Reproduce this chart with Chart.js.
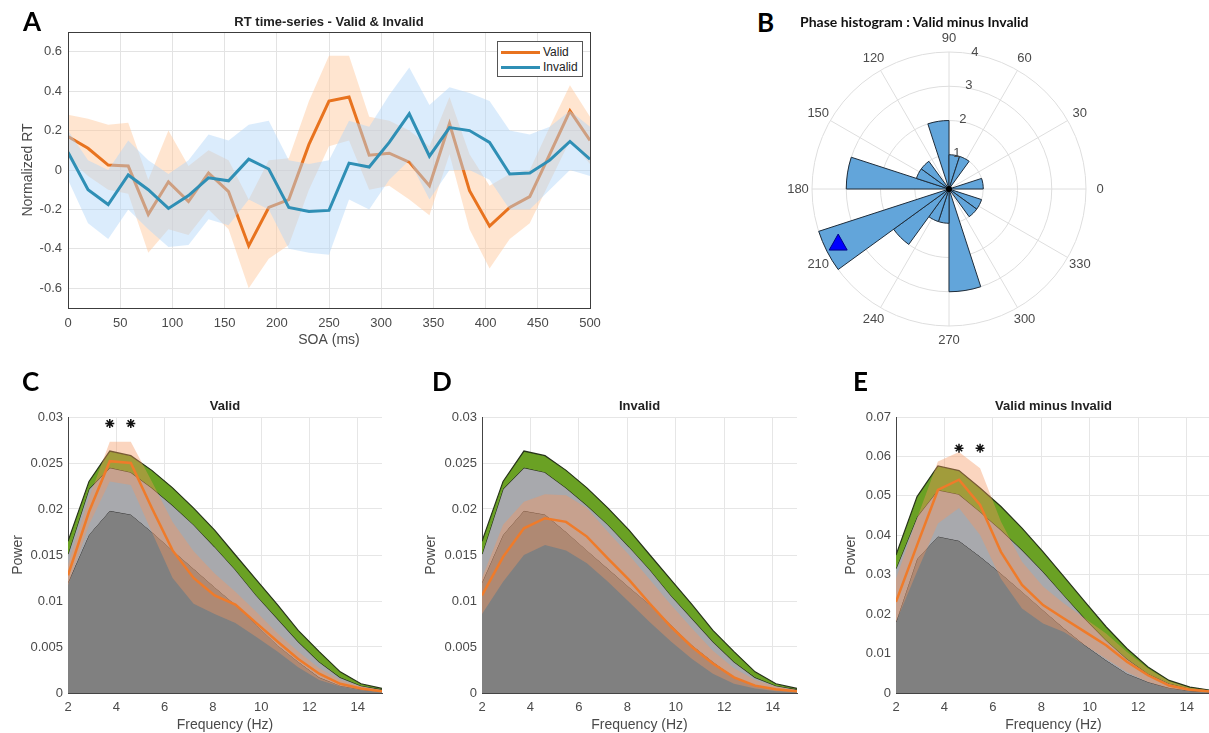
<!DOCTYPE html>
<html>
<head>
<meta charset="utf-8">
<script src="https://cdn.jsdelivr.net/npm/chart.js@4.4.1/dist/chart.umd.min.js"></script>
<style>
  body { margin: 0; background: #fff; overflow: hidden; }
  .fig { position: relative; width: 1209px; height: 733px; }
  canvas { position: absolute; }
  .letter { position: absolute; font: bold 26px Lato, "Open Sans", sans-serif; line-height: 26px; color: #000; }
  .ptitle { position: absolute; font: bold 14px Lato, sans-serif; color: #111; white-space: nowrap; }
  .legend { position: absolute; left: 497px; top: 41px; width: 84px; height: 34px; border: 1px solid #555;
    background: #fff; font: 12px "Liberation Sans", Arial, sans-serif; color: #222; z-index: 2; }
  .legend div { position: absolute; left: 3px; height: 14px; line-height: 14px; }
  .legend span { display: inline-block; width: 39px; height: 3px; vertical-align: middle; margin-right: 3px; }
</style>
</head>
<body>
<div class="fig">
  <canvas id="rtChart" width="610" height="352" style="left:0;top:0"></canvas>
  <canvas id="phaseChart" width="340" height="340" style="left:779px;top:19px"></canvas>
  <canvas id="validChart" width="405" height="342" style="left:0;top:392px"></canvas>
  <canvas id="invalidChart" width="400" height="342" style="left:410px;top:392px"></canvas>
  <canvas id="diffChart" width="410" height="342" style="left:810px;top:392px"></canvas>

  <div class="letter" style="left:23px;top:8px">A</div>
  <div class="letter" style="left:757px;top:9px">B</div>
  <div class="letter" style="left:22px;top:368px">C</div>
  <div class="letter" style="left:432px;top:368px">D</div>
  <div class="letter" style="left:853px;top:368px">E</div>
  <div class="ptitle" style="left:800px;top:13px">Phase histogram : Valid minus Invalid</div>

  <div class="legend">
    <div style="top:3px"><span style="background:#e8731f"></span>Valid</div>
    <div style="top:18px"><span style="background:#2f8fb5"></span>Invalid</div>
  </div>
</div>

<script>
// ---- panel A : RT time-series ----
const soaMs = [0, 19.2, 38.5, 57.7, 76.9, 96.2, 115.4, 134.6, 153.8, 173.1, 192.3, 211.5, 230.8, 250,
  269.2, 288.5, 307.7, 326.9, 346.2, 365.4, 384.6, 403.8, 423.1, 442.3, 461.5, 480.8, 500];
const validRT = [0.17, 0.11, 0.025, 0.02, -0.225, -0.06, -0.16, -0.015, -0.11, -0.385, -0.19, -0.15, 0.13, 0.35,
  0.37, 0.075, 0.085, 0.04, -0.08, 0.235, -0.105, -0.285, -0.19, -0.135, 0.08, 0.30, 0.15];
const validHi = [0.28, 0.26, 0.23, 0.24, -0.05, 0.2, 0.02, 0.1, 0.05, -0.15, 0.05, 0.06, 0.35, 0.58,
  0.58, 0.27, 0.25, 0.2, 0.12, 0.37, 0.08, -0.08, -0.02, 0.0, 0.22, 0.43, 0.27];
const validLo = [0.06, -0.03, -0.1, -0.12, -0.42, -0.3, -0.33, -0.2, -0.3, -0.6, -0.45, -0.38, -0.1, 0.12,
  0.15, -0.1, -0.08, -0.15, -0.23, 0.08, -0.3, -0.5, -0.35, -0.27, -0.06, 0.15, 0.03];
const invalidRT = [0.09, -0.1, -0.175, -0.025, -0.1, -0.195, -0.13, -0.04, -0.055, 0.055, 0.005, -0.19, -0.21, -0.205,
  0.035, 0.015, 0.14, 0.285, 0.07, 0.215, 0.2, 0.14, -0.02, -0.015, 0.05, 0.145, 0.055];
const invalidHi = [0.2, 0.05, 0.0, 0.15, 0.05, -0.02, 0.05, 0.18, 0.15, 0.23, 0.25, 0.05, 0.03, 0.05,
  0.25, 0.22, 0.38, 0.52, 0.33, 0.42, 0.39, 0.35, 0.2, 0.18, 0.22, 0.3, 0.22];
const invalidLo = [-0.05, -0.27, -0.35, -0.2, -0.3, -0.39, -0.38, -0.25, -0.28, -0.15, -0.2, -0.4, -0.42, -0.43,
  -0.15, -0.2, -0.05, 0.05, -0.15, 0.0, 0.0, -0.05, -0.2, -0.2, -0.1, 0.0, -0.03];
const rtTicks = [-0.6, -0.4, -0.2, 0, 0.2, 0.4, 0.6];
const soaTicks = [0, 50, 100, 150, 200, 250, 300, 350, 400, 450, 500];

// ---- panel B : phase histogram (18 deg bins, counter-clockwise from 0 deg) ----
const phaseBinsDeg = [0, 18, 36, 54, 72, 90, 108, 126, 144, 162, 180, 198, 216, 234, 252, 270, 288, 306, 324, 342];
const phaseCounts = [1, 0, 0, 1, 1, 2, 0, 1, 1, 3, 0, 4, 2, 1, 1, 3, 0, 1, 1, 0];
const angleTicks = [0, 30, 60, 90, 120, 150, 180, 210, 240, 270, 300, 330];
const ringTicks = [1, 2, 3, 4];
const meanPhaseDeg = 206;
const meanPhaseR = 3.6;

// ---- panels C-E : power spectra ----
const freqHz = [2, 2.87, 3.73, 4.6, 5.47, 6.33, 7.2, 8.07, 8.93, 9.8, 10.67, 11.53, 12.4, 13.27, 14.13, 15];
const freqTicks = [2, 4, 6, 8, 10, 12, 14];

const surrLow = [0.012, 0.0172, 0.0198, 0.0194, 0.0175, 0.0155, 0.0135, 0.0115, 0.0096, 0.0074, 0.0052, 0.0034, 0.0017, 0.0008, 0.0004, 0.0002];
const surrMid = [0.0151, 0.0222, 0.0245, 0.0240, 0.0223, 0.0204, 0.0183, 0.0159, 0.0134, 0.0106, 0.0081, 0.0056, 0.0034, 0.0017, 0.0008, 0.0004];
const surrHigh = [0.0165, 0.0230, 0.0263, 0.0258, 0.0242, 0.0223, 0.0201, 0.0177, 0.0150, 0.0123, 0.0096, 0.0068, 0.0045, 0.0023, 0.0010, 0.0005];

const validPow = [0.0128, 0.0197, 0.0252, 0.0250, 0.0201, 0.0155, 0.0125, 0.0106, 0.0096, 0.0076, 0.0056, 0.0037, 0.0021, 0.0010, 0.0005, 0.0002];
const validPowHi = [0.0139, 0.0212, 0.0273, 0.0273, 0.0230, 0.0186, 0.0154, 0.0130, 0.0110, 0.0088, 0.0065, 0.0045, 0.0027, 0.0014, 0.0007, 0.0003];
const validPowLo = [0.0117, 0.0183, 0.0230, 0.0226, 0.0175, 0.0125, 0.0097, 0.0086, 0.0076, 0.0061, 0.0045, 0.0028, 0.0014, 0.0007, 0.0003, 0.0001];
const validStarsHz = [3.73, 4.6];
const validStarY = 0.0293;

const invalidPow = [0.0106, 0.0148, 0.0179, 0.0190, 0.0186, 0.0170, 0.0146, 0.0123, 0.0097, 0.0072, 0.0050, 0.0032, 0.0017, 0.0008, 0.0004, 0.0002];
const invalidPowHi = [0.0125, 0.0183, 0.0208, 0.0216, 0.0215, 0.0201, 0.0175, 0.0150, 0.0123, 0.0096, 0.0070, 0.0046, 0.0027, 0.0014, 0.0007, 0.0003];
const invalidPowLo = [0.0086, 0.0121, 0.0150, 0.0161, 0.0155, 0.0141, 0.0121, 0.0099, 0.0077, 0.0056, 0.0037, 0.0021, 0.0010, 0.0005, 0.0002, 0.0001];

const diffSurrLow = [0.018, 0.034, 0.0397, 0.0386, 0.0346, 0.0303, 0.0257, 0.0210, 0.0164, 0.0121, 0.0083, 0.0049, 0.0028, 0.0013, 0.0006, 0.0003];
const diffSurrMid = [0.0316, 0.0447, 0.0515, 0.0504, 0.046, 0.0414, 0.0363, 0.0308, 0.0248, 0.0189, 0.0134, 0.0087, 0.0049, 0.0024, 0.0011, 0.0005];
const diffSurrHigh = [0.035, 0.0498, 0.0576, 0.0564, 0.052, 0.0473, 0.0418, 0.0358, 0.0295, 0.0231, 0.0168, 0.0113, 0.0066, 0.0032, 0.0015, 0.0007];
const diffPow = [0.0231, 0.0375, 0.0515, 0.0541, 0.0477, 0.0358, 0.0274, 0.0223, 0.0189, 0.0155, 0.0121, 0.0079, 0.0045, 0.0019, 0.0008, 0.0004];
const diffPowHi = [0.029, 0.0443, 0.0587, 0.0611, 0.057, 0.0435, 0.0333, 0.027, 0.0227, 0.0189, 0.0151, 0.0104, 0.0062, 0.003, 0.0013, 0.0006];
const diffPowLo = [0.018, 0.0308, 0.043, 0.0469, 0.0401, 0.029, 0.0214, 0.0176, 0.0155, 0.0121, 0.0087, 0.0053, 0.0028, 0.0011, 0.0005, 0.0003];
const diffStarsHz = [4.6, 5.47];
const diffStarY = 0.0621;

const powTicksSmall = [0, 0.005, 0.01, 0.015, 0.02, 0.025, 0.03];
const powTicksBig = [0, 0.01, 0.02, 0.03, 0.04, 0.05, 0.06, 0.07];

Chart.defaults.font.family = '"Liberation Sans", Arial, sans-serif';
Chart.defaults.color = "#4a4a4a";

const fmt = (v) => String(parseFloat(Number(v).toFixed(4)));
const xy = (xs, ys) => xs.map((x, i) => ({ x: x, y: ys[i] }));
const clear = "rgba(0,0,0,0)";

// draws the full axes box (panel A only)
const boxPlugin = {
  id: "box",
  afterDatasetsDraw(chart) {
    const a = chart.chartArea, ctx = chart.ctx;
    ctx.save();
    ctx.strokeStyle = "#3c3c3c";
    ctx.lineWidth = 1;
    ctx.strokeRect(Math.round(a.left) + 0.5, Math.round(a.top) + 0.5, Math.round(a.right - a.left), Math.round(a.bottom - a.top));
    ctx.restore();
  }
};

function band(data, color, order) {
  return { data: data, borderColor: clear, borderWidth: 0, backgroundColor: color, pointRadius: 0, fill: "-1", order: order };
}
function edge(data, order) {
  return { data: data, borderColor: clear, borderWidth: 0, pointRadius: 0, fill: false, order: order };
}

// ---- A ----
new Chart(document.getElementById("rtChart"), {
  type: "line",
  data: {
    datasets: [
      edge(xy(soaMs, validLo), 10),
      band(xy(soaMs, validHi), "rgba(255, 198, 150, 0.45)", 9),
      { label: "Valid", data: xy(soaMs, validRT), borderColor: "#e8731f", borderWidth: 3, pointRadius: 0, fill: false, order: 8 },
      edge(xy(soaMs, invalidLo), 7),
      band(xy(soaMs, invalidHi), "rgba(175, 212, 248, 0.45)", 6),
      { label: "Invalid", data: xy(soaMs, invalidRT), borderColor: "#2f8fb5", borderWidth: 3, pointRadius: 0, fill: false, order: 5 }
    ]
  },
  options: {
    responsive: false, animation: false,
    layout: { padding: { top: 14, right: 20, left: 0, bottom: 0 } },
    plugins: {
      legend: { display: false }, tooltip: { enabled: false },
      title: { display: true, text: "RT time-series - Valid & Invalid", fullSize: false, color: "#222",
        font: { size: 13, weight: "bold", lineHeight: "16px" }, padding: { top: 0, bottom: 2 } }
    },
    scales: {
      x: {
        type: "linear", min: 0, max: 500,
        afterBuildTicks: (s) => { s.ticks = soaTicks.map((v) => ({ value: v })); },
        afterFit: (s) => { s.height = 44; },
        grid: { color: "#e3e3e3", drawTicks: false },
        border: { display: false },
        ticks: { padding: 8, font: { size: 13 }, maxRotation: 0 },
        title: { display: true, text: "SOA (ms)", font: { size: 14 }, padding: { top: 0, bottom: 3 } }
      },
      y: {
        min: -0.7, max: 0.7,
        afterBuildTicks: (s) => { s.ticks = rtTicks.map((v) => ({ value: v })); },
        afterFit: (s) => { s.width = 68; },
        grid: { color: "#e3e3e3", drawTicks: false },
        border: { display: false },
        ticks: { padding: 6, font: { size: 13 }, callback: fmt },
        title: { display: true, text: "Normalized RT", font: { size: 14 }, padding: { top: 20, bottom: 0 } }
      }
    }
  },
  plugins: [boxPlugin]
});

// ---- B ----
const polarDecor = {
  id: "polarDecor",
  beforeDatasetsDraw(chart) {
    const r = chart.scales.r, ctx = chart.ctx;
    const R = r.getDistanceFromCenterForValue(ringTicks[ringTicks.length - 1]);
    ctx.save();
    ctx.strokeStyle = "#dedede";
    ctx.lineWidth = 1;
    angleTicks.forEach((a) => {
      const t = a * Math.PI / 180;
      ctx.beginPath();
      ctx.moveTo(r.xCenter, r.yCenter);
      ctx.lineTo(r.xCenter + R * Math.cos(t), r.yCenter - R * Math.sin(t));
      ctx.stroke();
    });
    ctx.restore();
  },
  afterDatasetsDraw(chart) {
    const r = chart.scales.r, ctx = chart.ctx;
    const R = r.getDistanceFromCenterForValue(ringTicks[ringTicks.length - 1]);
    ctx.save();
    ctx.font = '13px "Liberation Sans", Arial, sans-serif';
    ctx.fillStyle = "#4a4a4a";
    ctx.textAlign = "center";
    ctx.textBaseline = "middle";
    angleTicks.forEach((a) => {
      const t = a * Math.PI / 180;
      ctx.fillText(String(a), r.xCenter + (R + 14) * Math.cos(t), r.yCenter - (R + 14) * Math.sin(t));
    });
    const lt = 80 * Math.PI / 180;
    ringTicks.forEach((v) => {
      const d = r.getDistanceFromCenterForValue(v);
      ctx.fillText(String(v), r.xCenter + d * Math.cos(lt) + 2, r.yCenter - d * Math.sin(lt) - 2);
    });
    // centre dot
    ctx.fillStyle = "#000";
    ctx.beginPath();
    ctx.arc(r.xCenter, r.yCenter, 3, 0, Math.PI * 2);
    ctx.fill();
    // mean phase marker
    const mt = meanPhaseDeg * Math.PI / 180;
    const md = r.getDistanceFromCenterForValue(meanPhaseR);
    const mx = r.xCenter + md * Math.cos(mt), my = r.yCenter - md * Math.sin(mt);
    ctx.fillStyle = "#0000ff";
    ctx.strokeStyle = "#00008a";
    ctx.beginPath();
    ctx.moveTo(mx, my - 9);
    ctx.lineTo(mx + 9, my + 7);
    ctx.lineTo(mx - 9, my + 7);
    ctx.closePath();
    ctx.fill();
    ctx.stroke();
    ctx.restore();
  }
};

new Chart(document.getElementById("phaseChart"), {
  type: "polarArea",
  data: {
    labels: phaseBinsDeg.slice().reverse().map(String),
    datasets: [{
      data: phaseCounts.slice().reverse(),
      backgroundColor: "#62a5da",
      borderColor: "#1e2c3a",
      borderWidth: 1
    }]
  },
  options: {
    responsive: false, animation: false,
    layout: { padding: 33 },
    plugins: { legend: { display: false }, tooltip: { enabled: false } },
    scales: {
      r: {
        min: 0, max: 4, startAngle: 90,
        ticks: { display: false, stepSize: 1 },
        grid: { color: "#dedede", circular: true },
        angleLines: { display: false },
        pointLabels: { display: false }
      }
    }
  },
  plugins: [polarDecor]
});

// ---- C, D, E ----
function spectrumChart(id, opt) {
  const datasets = [
    { data: xy(freqHz, opt.low), borderColor: "#333", borderWidth: 1, backgroundColor: "#808080", pointRadius: 0, fill: "origin", order: 7 },
    { data: xy(freqHz, opt.mid), borderColor: "#27331a", borderWidth: 1.2, backgroundColor: "#a8a9ad", pointRadius: 0, fill: "-1", order: 6 },
    { data: xy(freqHz, opt.high), borderColor: "#27331a", borderWidth: 1.2, backgroundColor: "#6aa124", pointRadius: 0, fill: "-1", order: 5 },
    edge(xy(freqHz, opt.lo), 4),
    band(xy(freqHz, opt.hi), "rgba(246, 150, 95, 0.4)", 3),
    { data: xy(freqHz, opt.mean), borderColor: "#ef7b2a", borderWidth: 2.5, pointRadius: 0, fill: false, order: 2 }
  ];
  if (opt.stars) {
    datasets.push({ data: opt.stars.map((x) => ({ x: x, y: opt.starY })), showLine: false, pointStyle: "star",
      pointRadius: 4.5, borderColor: "#111", borderWidth: 1.5, order: 1 });
  }
  return new Chart(document.getElementById(id), {
    type: "line",
    data: { datasets: datasets },
    options: {
      responsive: false, animation: false,
      layout: { padding: { top: 6, right: opt.right, left: 0, bottom: 0 } },
      plugins: {
        legend: { display: false }, tooltip: { enabled: false },
        title: { display: true, text: opt.title, fullSize: false, color: "#222",
          font: { size: 13, weight: "bold", lineHeight: "16px" }, padding: { top: 0, bottom: 3 } }
      },
      scales: {
        x: {
          type: "linear", min: 2, max: 15,
          afterBuildTicks: (s) => { s.ticks = freqTicks.map((v) => ({ value: v })); },
          afterFit: (s) => { s.height = 41; },
          grid: { color: "#e6e6e6", drawTicks: false },
          border: { color: "#444", width: 1 },
          ticks: { padding: 7, font: { size: 13 }, maxRotation: 0 },
          title: { display: true, text: "Frequency (Hz)", font: { size: 14 }, padding: { top: 0, bottom: 0 } }
        },
        y: {
          min: 0, max: opt.ymax,
          afterBuildTicks: (s) => { s.ticks = opt.yTicks.map((v) => ({ value: v })); },
          afterFit: (s) => { s.width = opt.axisW; },
          grid: { color: "#e6e6e6", drawTicks: false },
          border: { color: "#444", width: 1 },
          ticks: { padding: 5, font: { size: 13 }, callback: fmt },
          title: { display: true, text: "Power", font: { size: 14 }, padding: { top: opt.ytPad, bottom: 0 } }
        }
      }
    }
  });
}

spectrumChart("validChart", {
  title: "Valid", low: surrLow, mid: surrMid, high: surrHigh,
  mean: validPow, hi: validPowHi, lo: validPowLo, stars: validStarsHz, starY: validStarY,
  ymax: 0.03, yTicks: powTicksSmall, axisW: 68, ytPad: 10, right: 23
});
spectrumChart("invalidChart", {
  title: "Invalid", low: surrLow, mid: surrMid, high: surrHigh,
  mean: invalidPow, hi: invalidPowHi, lo: invalidPowLo,
  ymax: 0.03, yTicks: powTicksSmall, axisW: 72, ytPad: 13, right: 13
});
spectrumChart("diffChart", {
  title: "Valid minus Invalid", low: diffSurrLow, mid: diffSurrMid, high: diffSurrHigh,
  mean: diffPow, hi: diffPowHi, lo: diffPowLo, stars: diffStarsHz, starY: diffStarY,
  ymax: 0.07, yTicks: powTicksBig, axisW: 86, ytPad: 33, right: 9
});
</script>
</body>
</html>
